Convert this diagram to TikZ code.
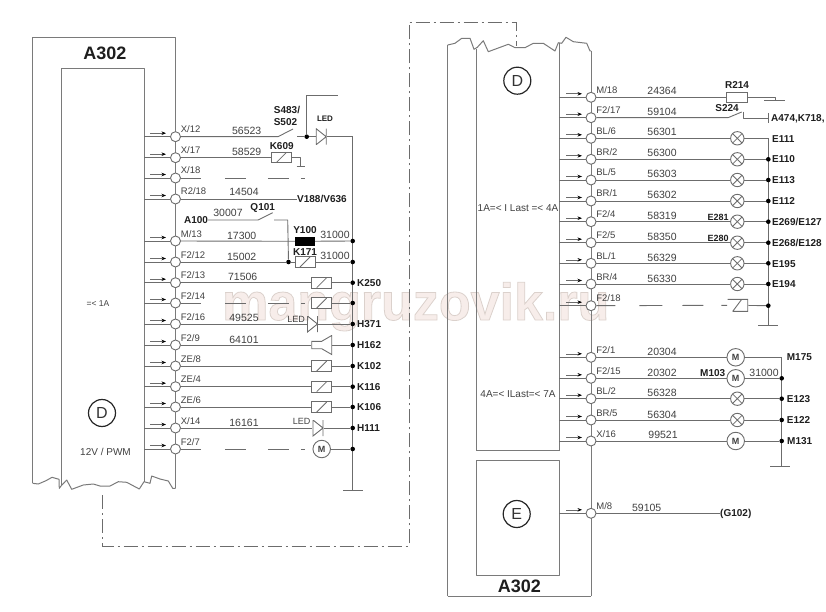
\documentclass[tikz,border=0pt]{standalone}
\usepackage{fontspec}
\setmainfont{Liberation Sans}
\usetikzlibrary{arrows.meta}
\definecolor{wirec}{HTML}{6C6C6C}
\definecolor{boxc}{HTML}{7A7A7A}
\definecolor{txtc}{HTML}{404040}
\definecolor{boldc}{HTML}{1E1E1E}
\definecolor{wmfill}{HTML}{F7EDEA}
\tikzset{
  wire/.style={draw=wirec,line width=0.9pt,line join=round},
  frame/.style={draw=boxc,line width=1pt,line join=round},
  dashone/.style={wire,dash pattern=on 20pt off 24pt on 21pt off 22pt on 21pt off 12pt on 4pt off 30pt},
  dashtwo/.style={wire,dash pattern=on 19pt off 24pt on 23pt off 20pt on 21pt off 18pt on 9pt off 30pt},
  dashdot/.style={draw=wirec,line width=0.9pt,dash pattern=on 14pt off 4pt on 2pt off 4pt},
  pinnode/.style={circle,draw=wirec,line width=0.9pt,fill=white,minimum size=10pt,inner sep=0pt},
  pinlabel/.style={font=\fontsize{9.5pt}{10pt}\selectfont,text=txtc,inner sep=0pt,anchor=base west},
  wnumber/.style={font=\fontsize{10.5pt}{11pt}\selectfont,text=txtc,inner sep=0pt,anchor=base},
  boldlab/.style={font=\fontsize{10pt}{11pt}\selectfont\bfseries,text=boldc,inner sep=0pt,anchor=base west},
  boldmid/.style={font=\fontsize{10pt}{11pt}\selectfont\bfseries,text=boldc,inner sep=0pt,anchor=base},
  tinybold/.style={font=\fontsize{9pt}{10pt}\selectfont\bfseries,text=boldc,inner sep=0pt,anchor=base},
  plain/.style={font=\fontsize{10pt}{11pt}\selectfont,text=txtc,inner sep=0pt,anchor=base},
  title/.style={font=\fontsize{18pt}{20pt}\selectfont\bfseries,text=boldc,inner sep=0pt,anchor=center},
  letter/.style={circle,draw=black!85,line width=1.2pt,minimum size=27pt,inner sep=0pt,font=\fontsize{16pt}{18pt}\selectfont,text=black!80},
  relaybox/.style={rectangle,draw=wirec,line width=0.9pt,fill=white,minimum width=20pt,minimum height=10.5pt,inner sep=0pt,
    path picture={\draw[wirec,line width=0.8pt,shift={(path picture bounding box.center)}] (-5pt,-5pt) -- (5pt,5pt);}},
  relayopen/.style={rectangle,minimum width=21pt,minimum height=13pt,inner sep=0pt,
    path picture={\draw[wirec,line width=0.9pt,shift={(path picture bounding box.center)}]
      (-10pt,6pt) -- (10pt,6pt) -- (10pt,-6pt) -- (-5pt,-6pt) (-5pt,-6pt) -- (4pt,6pt);}},
  resbox/.style={rectangle,draw=wirec,line width=0.9pt,fill=white,minimum width=21pt,minimum height=10pt,inner sep=0pt},
  blackbox/.style={rectangle,fill=black,minimum width=20pt,minimum height=9.5pt,inner sep=0pt},
  lamp/.style={circle,draw=wirec,line width=0.9pt,fill=white,minimum size=13.4pt,inner sep=0pt,
    path picture={\draw[wirec,line width=0.8pt] (path picture bounding box.south west) -- (path picture bounding box.north east)
      (path picture bounding box.north west) -- (path picture bounding box.south east);}},
  motor/.style={circle,draw=wirec,line width=0.9pt,fill=white,minimum size=17.5pt,inner sep=0pt,font=\fontsize{9pt}{10pt}\selectfont\bfseries,text=txtc},
  diode/.style={rectangle,minimum width=11pt,minimum height=16pt,inner sep=0pt,
    path picture={\draw[wirec,line width=0.9pt,shift={(path picture bounding box.center)}]
      (-5pt,8pt) -- (-5pt,-8pt) -- (5pt,0pt) -- cycle (5pt,8pt) -- (5pt,-8pt);}},
  horn/.style={rectangle,minimum width=21pt,minimum height=20pt,inner sep=0pt,
    path picture={\draw[wirec,line width=0.9pt,shift={(path picture bounding box.center)}]
      (-10pt,3.7pt) -- (0pt,3.7pt) -- (10pt,9.5pt) -- (10pt,-9.5pt) -- (0pt,-3.7pt) -- (-10pt,-3.7pt) -- cycle;}},
  junction/.style={circle,fill=black,minimum size=4.6pt,inner sep=0pt},
  flowarrow/.style={draw=wirec,line width=0.6pt,-{Stealth[length=4.5pt,width=3.5pt,black]}}
}
\newcommand\pinrow[7]{%
  \coordinate (#1s) at (#2,#4);
  \coordinate (#1a) at (#6,{#4-3.5});
  \coordinate (#1b) at (#7,{#4-3.5});
  \node[pinnode] (#1) at (#3,#4) {};
  \node[pinlabel] (#1l) at ({#3+5.2},{#4-4}) {#5};
  \draw[wire] (#1s) -- (#1);
  \draw[flowarrow] (#1a) -- (#1b);
}
\newcommand\lpin[3]{\pinrow{#1}{144.3}{175.5}{#2}{#3}{150}{166}}
\newcommand\rpin[3]{\pinrow{#1}{559.3}{591}{#2}{#3}{566}{582}}
\newcommand\wnum[4]{\node[wnumber] (#1) at (#2,#3) {#4};}
\newcommand\bl[4]{\node[boldlab] (#1) at (#2,#3) {#4};}
\begin{document}
\begin{tikzpicture}[x=1pt,y=-1pt]
\useasboundingbox (0,0) rectangle (826,612);
% watermark
\node[inner sep=0pt,anchor=base west,text=wmfill,font=\fontsize{52pt}{54pt}\selectfont\bfseries] (wm) at (222,320)
  {\special{pdf:code 2 Tr 0.8 w 0.86 0.82 0.80 RG}mangruzovik.ru\special{pdf:code 0 Tr 1 w 0 0 0 RG}};
% ---- left module frames
\draw[frame] (32.7,483.3) -- (32.7,38) -- (175.5,38) -- (175.5,488.3);
\draw[frame] (61,486) -- (61,69) -- (144.3,69) -- (144.3,481.7);
\draw[frame] (32.7,483.3) -- (38.3,484) -- (46,480.7) -- (52,477.3) -- (59,479.3) -- (59.3,488.3) -- (61,486)
  -- (66.7,480) -- (71.7,489.3) -- (83.3,485) -- (93.3,484) -- (100,486) -- (110,486) -- (118.3,481.7) -- (126.7,482.3) -- (139.3,489) -- (144,481.7)
  -- (150,483.3) -- (151.7,476) -- (160,479) -- (168.3,481) -- (172.7,488.3) -- (175.5,488.3);
\node[title] (a302l) at (105,53) {A302};
\node[letter] (dl) at (102,413) {D};
\node[plain,font=\fontsize{8.5pt}{9pt}\selectfont] (ilim) at (98,306) {=< 1A};
\node[plain] (pwm) at (105.5,455.5) {12V / PWM};
% ---- right module frames
\draw[frame] (447.7,596) -- (447.7,45) (476.7,450.7) -- (476.7,49.3) (559.3,450.7) -- (559.3,43.3) (591,596) -- (591,51);
\draw[frame] (447.7,45) -- (455,43.3) -- (461.7,38.3) -- (470,38.3) -- (474,49.3) -- (477.3,47.3) -- (483.3,40.7) -- (488.3,51.7) -- (508.3,44.3) -- (515,47.7) -- (525,47.7) -- (533.3,43.3) -- (543.3,43.3) -- (555,51) -- (558.3,42.7) -- (561.7,43.3) -- (566,37.3) -- (573.3,41.7) -- (586.7,43.3) -- (590,51) -- (591,51);
\draw[frame] (447.7,596) -- (591,596);
\draw[frame] (476.7,450.7) -- (559.3,450.7);
\draw[frame] (476.3,460) rectangle (559.3,575);
\node[title] (a302r) at (519.3,586) {A302};
\node[letter] (dr) at (517.3,80.7) {D};
\node[letter] (er) at (516.7,514) {E};
\node[plain,anchor=center] (iup) at (518,208.3) {1A=< I Last =< 4A};
\node[plain,anchor=center] (ilo) at (518,394) {4A=< ILast=< 7A};
% ---- link between the two sheets
\coordinate (dd1) at (102.7,495);
\coordinate (dd2) at (102.7,546);
\coordinate (dd3) at (409,546);
\coordinate (dd4) at (409,22);
\coordinate (dd5) at (516.7,22);
\coordinate (dd6) at (516.7,46);
\draw[dashdot] (dd1) -- (dd2) -- (dd3) -- (dd4) -- (dd5) -- (dd6);
% ---- left pins
\lpin{lxa}{136.7}{X/12}
\lpin{lxb}{157.7}{X/17}
\lpin{lxc}{178}{X/18}
\lpin{lra}{199}{R2/18}
\lpin{lma}{241}{M/13}
\lpin{lfa}{262}{F2/12}
\lpin{lfb}{282.7}{F2/13}
\lpin{lfc}{303}{F2/14}
\lpin{lfd}{324}{F2/16}
\lpin{lfe}{345}{F2/9}
\lpin{lza}{366}{ZE/8}
\lpin{lzb}{386.7}{ZE/4}
\lpin{lzc}{407}{ZE/6}
\lpin{lxd}{428}{X/14}
\lpin{lff}{449}{F2/7}
% left bus
\coordinate (ltop) at (352.7,136.7);
\coordinate (lbot) at (352.7,490);
\coordinate (lg1) at (343,490);
\coordinate (lg2) at (363,490);
\draw[wire] (ltop) -- (lbot) (lg1) -- (lg2);
% X/12
\coordinate (sa1) at (278,136.7);
\coordinate (sa2) at (293,129);
\coordinate (sa3) at (297,136.7);
\node[junction] (ja) at (306.7,136.7) {};
\node[diode] (da) at (321.2,136.7) {};
\coordinate (jup) at (306.7,95.7);
\coordinate (jend) at (338,95.7);
\draw[wire] (lxa) -- (sa1) -- (sa2);
\draw[wire] (sa3) -- (ja) -- (da);
\draw[wire] (da) -- (ltop);
\draw[wire] (ja) -- (jup) -- (jend);
\wnum{n56523}{246.7}{134.5}{56523}
\node[boldmid] (s483) at (287,114) {S483/};
\node[boldmid] (s502) at (285.5,126) {S502};
\node[boldmid,font=\fontsize{8pt}{9pt}\selectfont\bfseries] (ledtop) at (325,122) {LED};
% X/17
\node[relaybox] (k609) at (281.2,157.7) {};
\coordinate (kg1) at (300.7,157.7);
\coordinate (kg2) at (300.7,166.7);
\coordinate (kg3) at (296.7,166.7);
\coordinate (kg4) at (305,166.7);
\draw[wire] (lxb) -- (k609);
\draw[wire] (k609) -- (kg1) -- (kg2) (kg3) -- (kg4);
\wnum{n58529}{246.7}{155.5}{58529}
\node[boldmid] (k609t) at (281.7,149.5) {K609};
% X/18
\coordinate (xend) at (305,178);
\draw[dashone] (lxc) -- (xend);
% R2/18
\bl{v188}{297}{202.6}{V188/V636}
\draw[wire] (lra) -- (v188.west |- lra);
\wnum{n14504}{244}{196}{14504}
% A100 Q101
\node[boldmid,anchor=center] (a100) at (196,220) {A100};
\coordinate (qa) at (258,220);
\coordinate (qb) at (272.7,212.7);
\coordinate (qc) at (274,220);
\coordinate (qd) at (287.7,220);
\node[junction] (jq) at (288.5,262) {};
\draw[wire] (a100) -- (qa) -- (qb);
\draw[wire] (qc) -- (qd) -- (jq);
\wnum{n30007}{228}{217}{30007}
\node[boldmid] (q101) at (262.7,210.5) {Q101};
% M/13
\node[blackbox] (y100) at (305,241.3) {};
\node[junction] (jm) at (352.7,241) {};
\draw[wire] (lma) -- (y100);
\draw[wire] (y100) -- (jm);
\wnum{n17300}{241.7}{239}{17300}
\node[boldmid] (y100t) at (305,233.5) {Y100};
\wnum{n31a}{335}{238.5}{31000}
% F2/12
\node[relaybox] (k171) at (305,262) {};
\node[junction] (jf) at (352.7,262) {};
\draw[wire] (lfa) -- (jq) -- (k171);
\draw[wire] (k171) -- (jf);
\wnum{n15002}{241.7}{260}{15002}
\node[boldmid] (k171t) at (305,255) {K171};
\wnum{n31b}{335}{259.5}{31000}
% F2/13
\node[relaybox] (k250) at (321.7,282.7) {};
\node[junction] (j250) at (352.7,282.7) {};
\draw[wire] (lfb) -- (k250);
\draw[wire] (k250) -- (j250);
\wnum{n71506}{242.7}{280}{71506}
\bl{k250t}{357}{286.3}{K250}
% F2/14
\node[relaybox] (kfc) at (321.7,303) {};
\node[junction] (jfc) at (352.7,303) {};
\draw[dashone] (lfc) -- (kfc);
\draw[wire] (kfc) -- (jfc);
% F2/16
\node[diode] (dfd) at (312.5,324) {};
\node[junction] (jfd) at (352.7,324) {};
\draw[wire] (lfd) -- (dfd);
\draw[wire] (dfd) -- (jfd);
\wnum{n49525}{244}{321.5}{49525}
\node[plain,font=\fontsize{9pt}{10pt}\selectfont] (ledb) at (296,322.5) {LED};
\bl{h371}{357}{327.6}{H371}
% F2/9
\node[horn] (hf) at (321.7,345) {};
\node[junction] (jh) at (352.7,345) {};
\draw[wire] (lfe) -- (hf);
\draw[wire] (hf) -- (jh);
\wnum{n64101}{244}{343}{64101}
\bl{h162}{357}{348.6}{H162}
% ZE
\node[relaybox] (kza) at (321.7,366) {};
\node[junction] (jza) at (352.7,366) {};
\draw[wire] (lza) -- (kza);
\draw[wire] (kza) -- (jza);
\bl{k102}{357}{369.6}{K102}
\node[relaybox] (kzb) at (321.7,386.7) {};
\node[junction] (jzb) at (352.7,386.7) {};
\draw[wire] (lzb) -- (kzb);
\draw[wire] (kzb) -- (jzb);
\bl{k116}{357}{390.3}{K116}
\node[relaybox] (kzc) at (321.7,407) {};
\node[junction] (jzc) at (352.7,407) {};
\draw[wire] (lzc) -- (kzc);
\draw[wire] (kzc) -- (jzc);
\bl{k106}{357}{410.6}{K106}
% X/14
\node[diode] (dxd) at (318,428) {};
\node[junction] (jxd) at (352.7,428) {};
\draw[wire] (lxd) -- (dxd);
\draw[wire] (dxd) -- (jxd);
\wnum{n16161}{244}{426}{16161}
\node[plain,font=\fontsize{9pt}{10pt}\selectfont] (ledc) at (301.7,424) {LED};
\bl{h111}{357}{431.6}{H111}
% F2/7
\node[motor] (mff) at (321.7,449) {M};
\node[junction] (jff) at (352.7,449) {};
\draw[dashone] (lff) -- (mff);
\draw[wire] (mff) -- (jff);
% ---- right pins
\rpin{rma}{97.3}{M/18}
\rpin{rfa}{117.7}{F2/17}
\rpin{rba}{138.3}{BL/6}
\rpin{rbb}{159.3}{BR/2}
\rpin{rbc}{180}{BL/5}
\rpin{rbd}{201}{BR/1}
\rpin{rfb}{221.7}{F2/4}
\rpin{rfc}{242.7}{F2/5}
\rpin{rbe}{263.3}{BL/1}
\rpin{rbf}{284}{BR/4}
\rpin{rfd}{305.7}{F2/18}
\rpin{rfe}{357.3}{F2/1}
\rpin{rff}{378.3}{F2/15}
\rpin{rbg}{398.7}{BL/2}
\rpin{rbh}{420}{BR/5}
\rpin{rxa}{441}{X/16}
\rpin{rmb}{513.3}{M/8}
% right buses
\coordinate (rtop) at (768.3,138.3);
\coordinate (rbot) at (768.3,325.7);
\coordinate (rg1) at (758,325.7);
\coordinate (rg2) at (778,325.7);
\draw[wire] (rtop) -- (rbot) (rg1) -- (rg2);
\coordinate (stop) at (781.7,357.3);
\coordinate (sbot) at (781.7,466);
\coordinate (sg1) at (770,466);
\coordinate (sg2) at (790,466);
\draw[wire] (stop) -- (sbot) (sg1) -- (sg2);
% M/18
\node[resbox] (r214) at (737.2,97.3) {};
\coordinate (ra) at (775,97.3);
\coordinate (rb) at (775,100.7);
\coordinate (rc) at (764,100.7);
\coordinate (rd) at (785,100.7);
\draw[wire] (rma) -- (r214);
\draw[wire] (r214) -- (ra) -- (rb) (rc) -- (rd);
\wnum{n24364}{662}{95}{24364}
\node[boldmid] (r214t) at (737,89) {R214};
% F2/17
\coordinate (ta) at (728,117.7);
\coordinate (tb) at (741.7,112);
\coordinate (tc) at (743,111.7);
\coordinate (td) at (743,118.3);
\coordinate (te) at (768.5,118.3);
\coordinate (tf) at (768.5,113);
\coordinate (tg) at (768.5,123.5);
\draw[wire] (rfa) -- (ta) -- (tb);
\draw[wire] (tc) -- (td) -- (te) (tf) -- (tg);
\wnum{n59104}{662}{115.5}{59104}
\node[boldmid] (s224) at (727,111.5) {S224};
\bl{a474}{771}{122}{A474,K718,}
% lamps
\node[lamp] (la) at (737.3,138.3) {};
\draw[wire] (rba) -- (la);
\draw[wire] (la) -- (rtop);
\wnum{n56301}{662}{136}{56301}
\bl{e111}{772}{142.5}{E111}
\node[lamp] (lb) at (737.3,159.3) {};
\node[junction] (jb) at (768.3,159.3) {};
\draw[wire] (rbb) -- (lb);
\draw[wire] (lb) -- (jb);
\wnum{n56300}{662}{157}{56300}
\bl{e110}{772}{163}{E110}
\node[lamp] (lc) at (737.3,180) {};
\node[junction] (jc) at (768.3,180) {};
\draw[wire] (rbc) -- (lc);
\draw[wire] (lc) -- (jc);
\wnum{n56303}{662}{178}{56303}
\bl{e113}{772}{183.6}{E113}
\node[lamp] (ld) at (737.3,201) {};
\node[junction] (jd) at (768.3,201) {};
\draw[wire] (rbd) -- (ld);
\draw[wire] (ld) -- (jd);
\wnum{n56302}{662}{199}{56302}
\bl{e112}{772}{204.6}{E112}
\node[lamp] (le) at (737.3,221.7) {};
\node[junction] (je) at (768.3,221.7) {};
\draw[wire] (rfb) -- (le);
\draw[wire] (le) -- (je);
\wnum{n58319}{662}{219.5}{58319}
\node[tinybold] (e281) at (718,220) {E281};
\bl{e269}{772}{225.3}{E269/E127}
\node[lamp] (lf) at (737.3,242.7) {};
\node[junction] (jf2) at (768.3,242.7) {};
\draw[wire] (rfc) -- (lf);
\draw[wire] (lf) -- (jf2);
\wnum{n58350}{662}{240.5}{58350}
\node[tinybold] (e280) at (718,241) {E280};
\bl{e268}{772}{246.3}{E268/E128}
\node[lamp] (lg) at (737.3,263.3) {};
\node[junction] (jg) at (768.3,263.3) {};
\draw[wire] (rbe) -- (lg);
\draw[wire] (lg) -- (jg);
\wnum{n56329}{662}{261}{56329}
\bl{e195}{772}{267}{E195}
\node[lamp] (lh) at (737.3,284) {};
\node[junction] (jh2) at (768.3,284) {};
\draw[wire] (rbf) -- (lh);
\draw[wire] (lh) -- (jh2);
\wnum{n56330}{662}{282}{56330}
\bl{e194}{772}{287.6}{E194}
% F2/18
\node[relayopen] (kd) at (737.7,305.3) {};
\node[junction] (jk) at (768.3,305.7) {};
\draw[dashtwo] (rfd) -- (kd);
\draw[wire] (kd) -- (jk);
% lower group
\node[motor] (ma) at (735.7,357.3) {M};
\draw[wire] (rfe) -- (ma);
\draw[wire] (ma) -- (stop);
\wnum{n20304}{662}{355}{20304}
\bl{m175}{786.7}{360.6}{M175}
\node[motor] (mb) at (735.7,378.3) {M};
\node[junction] (jmb) at (781.7,378.3) {};
\draw[wire] (rff) -- (mb);
\draw[wire] (mb) -- (jmb);
\wnum{n20302}{662}{376}{20302}
\node[boldmid] (m103) at (712.7,376) {M103};
\wnum{n31c}{764}{376}{31000}
\node[lamp] (li) at (737.3,398.7) {};
\node[junction] (ji) at (781.7,398.7) {};
\draw[wire] (rbg) -- (li);
\draw[wire] (li) -- (ji);
\wnum{n56328}{662}{396.5}{56328}
\bl{e123}{786.7}{402.3}{E123}
\node[lamp] (lj) at (737.3,420) {};
\node[junction] (jj) at (781.7,420) {};
\draw[wire] (rbh) -- (lj);
\draw[wire] (lj) -- (jj);
\wnum{n56304}{662}{418}{56304}
\bl{e122}{786.7}{423.6}{E122}
\node[motor] (mc) at (735.7,441) {M};
\node[junction] (jmc) at (781.7,441) {};
\draw[wire] (rxa) -- (mc);
\draw[wire] (mc) -- (jmc);
\wnum{n99521}{663}{438.5}{99521}
\bl{m131}{787}{444.6}{M131}
% M/8
\bl{g102}{720}{516.8}{(G102)}
\draw[wire] (rmb) -- (g102.west |- rmb);
\wnum{n59105}{646.7}{511}{59105}
\end{tikzpicture}
\end{document}
